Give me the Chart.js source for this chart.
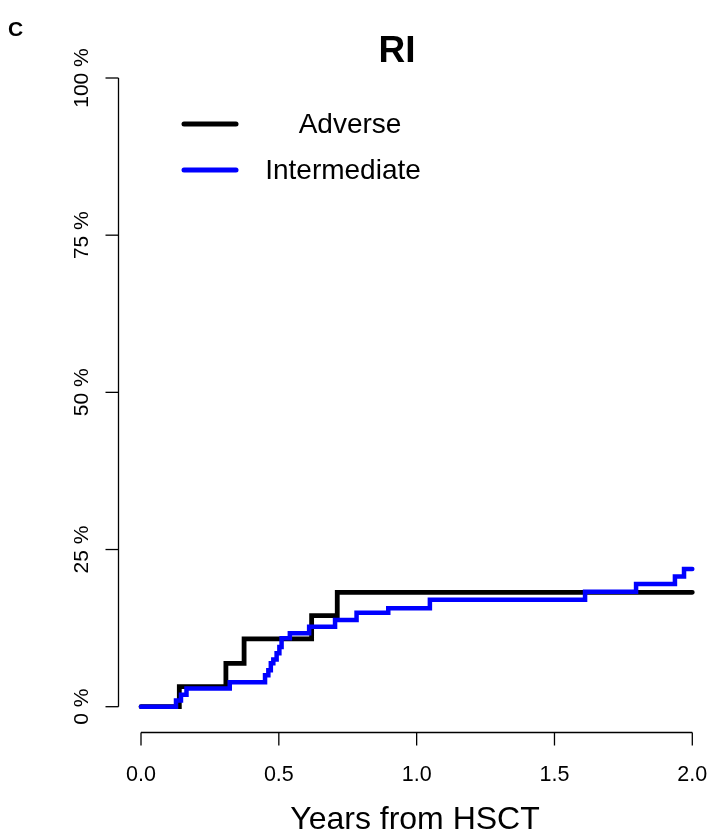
<!DOCTYPE html>
<html>
<head>
<meta charset="utf-8">
<script src="https://cdn.jsdelivr.net/npm/chart.js@4.4.1/dist/chart.umd.min.js"></script>
<style>
  html, body { margin: 0; padding: 0; background: #ffffff; }
  canvas { display: block; }
</style>
</head>
<body>
<canvas id="c" width="710" height="836"></canvas>
<script>
// ---- data ----
const panelLetter = 'C';
const chartTitle = 'RI';
const xAxisTitle = 'Years from HSCT';
const seriesNames = ['Adverse', 'Intermediate'];
const seriesColors = ['#000000', '#0000ff'];

const adverseTimes = [0, 0.139, 0.308, 0.374, 0.619, 0.712, 2.0];
const adverseCIF   = [0, 3.2, 6.9, 10.8, 14.5, 18.2, 18.2];

const intermediateTimes = [0, 0.127, 0.145, 0.165, 0.322, 0.450, 0.462, 0.471, 0.480, 0.492, 0.502, 0.510, 0.540, 0.610, 0.704, 0.782, 0.897, 1.048, 1.611, 1.796, 1.937, 1.970, 2.0];
const intermediateCIF   = [0, 1.0, 1.9, 2.9, 3.9, 5.0, 5.8, 6.9, 7.5, 8.5, 9.5, 10.9, 11.7, 12.7, 13.8, 14.95, 15.65, 17.0, 18.3, 19.5, 20.7, 21.9, 21.9];

const xTickValues = [0, 0.5, 1.0, 1.5, 2.0];
const xTickLabels = ['0.0', '0.5', '1.0', '1.5', '2.0'];
const yTickValues = [0, 25, 50, 75, 100];
const yTickLabels = ['0 %', '25 %', '50 %', '75 %', '100 %'];

const toPoints = (xs, ys) => xs.map((x, i) => ({ x: x, y: ys[i] }));

const FONT = '"Liberation Sans", Arial, Helvetica, sans-serif';

const rStylePlugin = {
  id: 'rStyle',
  afterDraw(chart) {
    const ctx = chart.ctx;
    const xs = chart.scales.x, ys = chart.scales.y;
    ctx.save();
    ctx.strokeStyle = '#000';
    ctx.fillStyle = '#000';
    ctx.lineWidth = 1.3;
    ctx.lineCap = 'butt';

    // y axis (detached, R style)
    const yAxisX = 118.5;
    ctx.beginPath();
    ctx.moveTo(yAxisX, ys.getPixelForValue(yTickValues[0]));
    ctx.lineTo(yAxisX, ys.getPixelForValue(yTickValues[yTickValues.length - 1]));
    ctx.stroke();
    ctx.font = '21px ' + FONT;
    yTickValues.forEach((v, i) => {
      const py = ys.getPixelForValue(v);
      ctx.beginPath();
      ctx.moveTo(yAxisX, py);
      ctx.lineTo(yAxisX - 13, py);
      ctx.stroke();
      ctx.save();
      ctx.translate(88, py);
      ctx.rotate(-Math.PI / 2);
      ctx.textAlign = 'center';
      ctx.textBaseline = 'alphabetic';
      ctx.fillText(yTickLabels[i], 0, 0);
      ctx.restore();
    });

    // x axis (detached)
    const xAxisY = 732.5;
    ctx.beginPath();
    ctx.moveTo(xs.getPixelForValue(xTickValues[0]), xAxisY);
    ctx.lineTo(xs.getPixelForValue(xTickValues[xTickValues.length - 1]), xAxisY);
    ctx.stroke();
    ctx.font = '21.5px ' + FONT;
    xTickValues.forEach((v, i) => {
      const px = xs.getPixelForValue(v);
      ctx.beginPath();
      ctx.moveTo(px, xAxisY);
      ctx.lineTo(px, xAxisY + 13);
      ctx.stroke();
      ctx.textAlign = 'center';
      ctx.textBaseline = 'alphabetic';
      ctx.fillText(xTickLabels[i], px, 780.5);
    });

    // axis title
    ctx.font = '32px ' + FONT;
    ctx.textAlign = 'center';
    ctx.fillText(xAxisTitle, 415, 829);

    // panel letter and title
    ctx.font = 'bold 21px ' + FONT;
    ctx.textAlign = 'left';
    ctx.fillText(panelLetter, 8, 36);
    ctx.font = 'bold 37px ' + FONT;
    ctx.textAlign = 'center';
    ctx.fillText(chartTitle, 397, 62);

    // legend
    const legY = [124, 170];
    const legTextX = [350, 343];
    chart.data.datasets.forEach((ds, i) => {
      ctx.strokeStyle = ds.borderColor;
      ctx.lineWidth = 5;
      ctx.lineCap = 'round';
      ctx.beginPath();
      ctx.moveTo(184, legY[i]);
      ctx.lineTo(236, legY[i]);
      ctx.stroke();
      ctx.font = '28px ' + FONT;
      ctx.textAlign = 'center';
      ctx.textBaseline = 'middle';
      ctx.fillStyle = '#000';
      ctx.fillText(ds.label, legTextX[i], legY[i] + 1);
    });
    ctx.restore();
  }
};

new Chart(document.getElementById('c'), {
  type: 'line',
  data: {
    datasets: [
      {
        label: seriesNames[0],
        data: toPoints(adverseTimes, adverseCIF),
        borderColor: seriesColors[0],
        borderWidth: 4.8,
        stepped: 'before',
        pointRadius: 0,
        fill: false,
        borderCapStyle: 'round',
        clip: false,
        order: 1
      },
      {
        label: seriesNames[1],
        data: toPoints(intermediateTimes, intermediateCIF),
        borderColor: seriesColors[1],
        borderWidth: 4.5,
        stepped: 'before',
        pointRadius: 0,
        fill: false,
        borderCapStyle: 'round',
        clip: false,
        order: 0
      }
    ]
  },
  options: {
    responsive: false,
    animation: false,
    devicePixelRatio: 1,
    layout: { padding: { left: 141, right: 17.7, top: 78, bottom: 129.3 } },
    plugins: { legend: { display: false }, title: { display: false }, tooltip: { enabled: false } },
    scales: {
      x: { type: 'linear', min: 0, max: 2, display: false },
      y: { type: 'linear', min: 0, max: 100, display: false }
    }
  },
  plugins: [rStylePlugin]
});
</script>
</body>
</html>
